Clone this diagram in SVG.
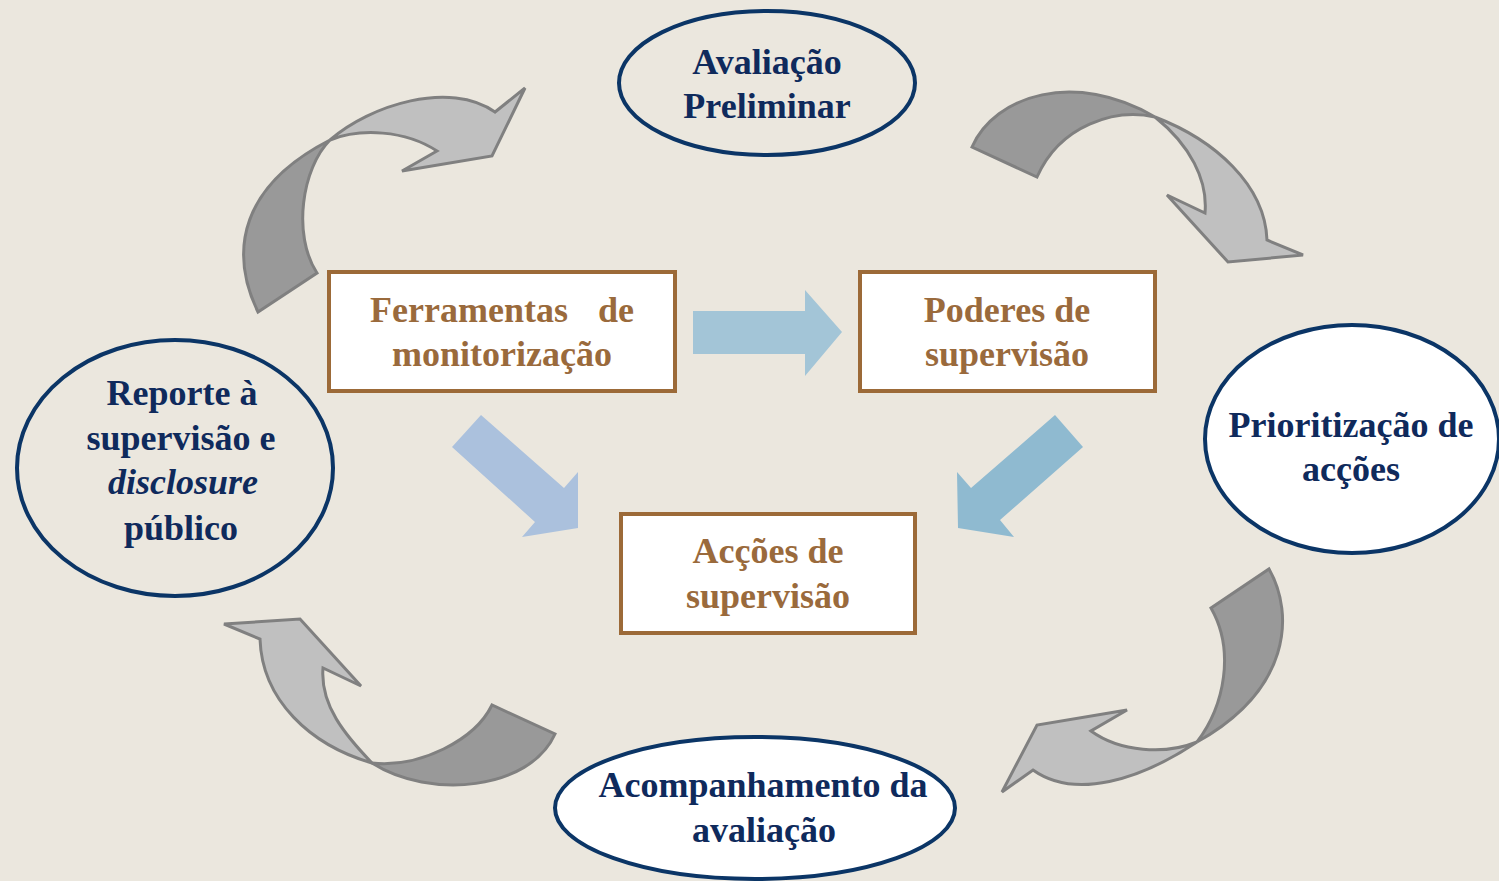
<svg xmlns="http://www.w3.org/2000/svg" width="1499" height="881" viewBox="0 0 1499 881">
<style>
.ell{stroke:#0b3566;stroke-width:4}
.box{fill:#ffffff;stroke:#9c6a38;stroke-width:4}
.tn{font-family:"Liberation Serif",serif;font-weight:bold;font-size:36px;fill:#0f2a5c;text-anchor:middle}
.tb{font-family:"Liberation Serif",serif;font-weight:bold;font-size:36px;fill:#9a6a3c;text-anchor:middle}
.st{text-anchor:start}
.en{text-anchor:end}
.dk{fill:#999999;stroke:#808080;stroke-width:3;stroke-linejoin:miter}
.lt{fill:#c0c0c0;stroke:#808080;stroke-width:3;stroke-linejoin:miter}
</style>
<rect width="1499" height="881" fill="#ebe7de"/>
<g id="connectors">
  <path class="dk" d="M258,312 C228,250 242,185 330,140 C302,168 292,235 317,273 Z"/>
  <path class="lt" d="M330,140 C370,105 450,80 495,112 L525,88 L492,156 L402,171 L437,151 C405,130 360,128 330,140 Z"/>
  <path class="dk" d="M972,147 C995,95 1075,70 1155,117 C1115,108 1060,125 1037,177 Z"/>
  <path class="lt" d="M1155,117 C1215,140 1265,185 1267,240 L1303,255 L1228,262 L1167,195 L1205,213 C1208,180 1190,145 1155,117 Z"/>
  <path class="dk" d="M1269,569 C1295,615 1290,690 1197,742 C1225,705 1235,650 1211,608 Z"/>
  <path class="lt" d="M1197,742 C1140,780 1075,800 1033,770 L1002,792 L1037,725 L1127,710 L1091,731 C1120,752 1165,755 1197,742 Z"/>
  <path class="dk" d="M372,763 C420,768 475,740 492,705 L555,734 C530,790 430,800 372,763 Z"/>
  <path class="lt" d="M372,763 C345,735 320,705 323,668 L361,686 L300,619 L224,624 L260,639 C262,700 310,745 372,763 Z"/>
  <polygon fill="#a3c5d7" points="693,311 805,311 805,290 842,332 805,376 805,354 693,354"/>
  <polygon fill="#abc1dd" points="481,415 564,488 578,472 578,528 522,537 535,522 452,447"/>
  <polygon fill="#8fbad0" points="1055,415 1083,447 1000,520 1014,537 958,528 957,472 971,488"/>
</g>
<g id="avaliacao">
  <ellipse class="ell" cx="767" cy="83" rx="148" ry="72" fill="#ebe7de"/>
  <text class="tn" x="767" y="74">Avaliação</text>
  <text class="tn" x="767" y="118">Preliminar</text>
</g>
<g id="prioritizacao">
  <ellipse class="ell" cx="1352" cy="439" rx="147" ry="114" fill="#ffffff"/>
  <text class="tn" x="1351" y="437">Prioritização de</text>
  <text class="tn" x="1351" y="481">acções</text>
</g>
<g id="acompanhamento">
  <ellipse class="ell" cx="755" cy="808" rx="200" ry="71" fill="#ffffff"/>
  <text class="tn" x="763" y="797">Acompanhamento da</text>
  <text class="tn" x="764" y="842">avaliação</text>
</g>
<g id="reporte">
  <ellipse class="ell" cx="175" cy="468" rx="158" ry="128" fill="#ebe7de"/>
  <text class="tn" x="182" y="405">Reporte à</text>
  <text class="tn" x="181" y="450">supervisão e</text>
  <text class="tn" x="183" y="494" font-style="italic">disclosure</text>
  <text class="tn" x="181" y="540">público</text>
</g>
<g id="ferramentas">
  <rect class="box" x="329" y="272" width="346" height="119"/>
  <text class="tb st" x="370" y="322">Ferramentas</text>
  <text class="tb en" x="634" y="322">de</text>
  <text class="tb" x="502" y="366">monitorização</text>
</g>
<g id="poderes">
  <rect class="box" x="860" y="272" width="295" height="119"/>
  <text class="tb" x="1007" y="322">Poderes de</text>
  <text class="tb" x="1007" y="366">supervisão</text>
</g>
<g id="accoes">
  <rect class="box" x="621" y="514" width="294" height="119"/>
  <text class="tb" x="768" y="563">Acções de</text>
  <text class="tb" x="768" y="608">supervisão</text>
</g>
</svg>
